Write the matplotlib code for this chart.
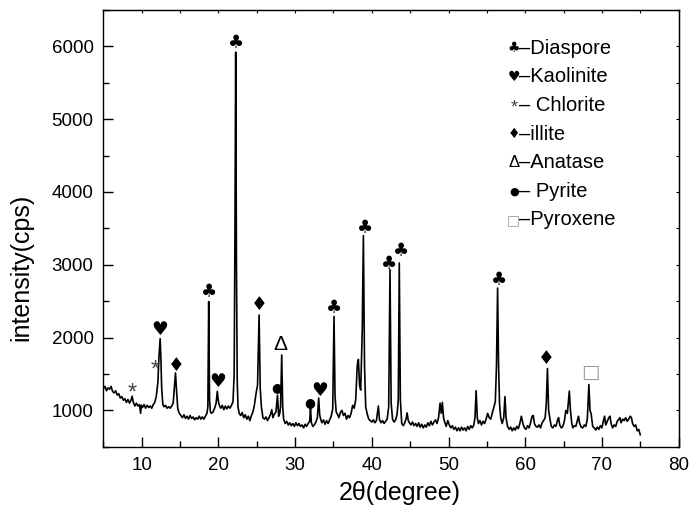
import matplotlib
matplotlib.use("Agg")
import matplotlib.pyplot as plt
from matplotlib.ticker import MultipleLocator

plt.rcParams['font.family'] = ['Liberation Sans', 'DejaVu Sans']

two_theta = [
    5.0, 5.2, 5.4, 5.6, 5.8, 6.0, 6.2, 6.4, 6.6, 6.8, 7.0, 7.2, 7.4, 7.6, 7.8, 8.0, 8.2, 8.4, 8.6, 8.75,
    8.9, 9.1, 9.3, 9.5, 9.7, 9.85, 9.95, 10.1, 10.3, 10.5, 10.7, 10.9, 11.1, 11.3, 11.5, 11.7, 11.9, 12.1,
    12.25, 12.4, 12.5, 12.6, 12.75, 12.9, 13.1, 13.3, 13.5, 13.7, 13.9, 14.1, 14.25, 14.4, 14.55, 14.7,
    14.9, 15.1, 15.3, 15.5, 15.7, 15.9, 16.1, 16.3, 16.5, 16.7, 16.9, 17.1, 17.3, 17.5, 17.7, 17.9, 18.1,
    18.3, 18.5, 18.62, 18.73, 18.84, 18.95, 19.1, 19.3, 19.5, 19.7, 19.85, 20.0, 20.15, 20.3, 20.5, 20.7,
    20.9, 21.1, 21.3, 21.5, 21.7, 21.9, 22.05, 22.15, 22.25, 22.35, 22.45, 22.55, 22.7, 22.9, 23.1, 23.3,
    23.5, 23.7, 23.9, 24.1, 24.3, 24.5, 24.7, 24.9, 25.1, 25.3, 25.45, 25.6, 25.8, 26.0, 26.2, 26.4, 26.6,
    26.8, 26.95, 27.1, 27.3, 27.5, 27.7, 27.85, 28.0, 28.1, 28.25, 28.38, 28.5, 28.7, 28.9, 29.1, 29.3,
    29.5, 29.7, 29.9, 30.1, 30.3, 30.5, 30.7, 30.9, 31.1, 31.3, 31.5, 31.7, 31.9, 32.0, 32.12, 32.3, 32.5,
    32.7, 32.9, 33.07, 33.2, 33.35, 33.5, 33.7, 33.9, 34.1, 34.3, 34.5, 34.7, 34.9, 35.07, 35.2, 35.35,
    35.5, 35.7, 35.9, 36.1, 36.3, 36.5, 36.7, 36.9, 37.1, 37.3, 37.5, 37.7, 37.9, 38.1, 38.25, 38.4,
    38.55, 38.75, 38.9, 39.05, 39.2, 39.4, 39.6, 39.8, 40.0, 40.2, 40.4, 40.6, 40.85, 41.0, 41.2, 41.4,
    41.6, 41.8, 42.0, 42.2, 42.37, 42.52, 42.7, 42.9, 43.1, 43.3, 43.45, 43.58, 43.72, 43.9, 44.1, 44.3,
    44.5, 44.6, 44.75, 44.9, 45.1, 45.3, 45.5, 45.7, 45.9, 46.1, 46.3, 46.5, 46.7, 46.9, 47.1, 47.3, 47.5,
    47.7, 47.9, 48.1, 48.3, 48.5, 48.7, 48.9, 49.05, 49.2, 49.35, 49.5, 49.7, 49.9, 50.1, 50.3, 50.5,
    50.7, 50.9, 51.1, 51.3, 51.5, 51.7, 51.9, 52.1, 52.3, 52.5, 52.7, 52.9, 53.1, 53.3, 53.45, 53.6,
    53.75, 53.9, 54.1, 54.3, 54.5, 54.7, 54.9, 55.1, 55.3, 55.5, 55.7, 55.9, 56.1, 56.25, 56.4, 56.52,
    56.65, 56.8, 57.0, 57.2, 57.36, 57.5, 57.7, 57.9, 58.1, 58.3, 58.5, 58.7, 58.9, 59.1, 59.3, 59.5,
    59.7, 59.9, 60.1, 60.3, 60.5, 60.7, 60.9, 61.05, 61.2, 61.4, 61.6, 61.8, 62.0, 62.2, 62.4, 62.6,
    62.75, 62.9, 63.05, 63.2, 63.4, 63.6, 63.8, 64.0, 64.2, 64.35, 64.5, 64.7, 64.9, 65.1, 65.3, 65.5,
    65.75, 65.9, 66.05, 66.2, 66.4, 66.6, 66.8, 66.95, 67.1, 67.3, 67.5, 67.7, 67.9, 68.1, 68.3, 68.45,
    68.6, 68.8, 69.0, 69.2, 69.4, 69.6, 69.8, 70.0, 70.2, 70.35, 70.5, 70.7, 70.9, 71.05, 71.2, 71.4,
    71.6, 71.8, 72.0, 72.2, 72.35, 72.5, 72.7, 72.9, 73.1, 73.3, 73.5, 73.7, 73.85, 74.0, 74.2, 74.4,
    74.6, 74.8, 75.0,
]

intensity = [
    1300, 1330, 1270, 1310, 1290, 1330, 1260, 1240, 1270, 1210, 1230, 1170, 1190, 1140, 1160, 1110, 1150, 1100, 1140, 1195,
    1110, 1060, 1100, 1060, 1080, 960, 1070, 1040, 1080, 1030, 1070, 1040, 1060, 1030, 1080, 1110, 1200, 1380,
    1750, 1985, 1700, 1300, 1080, 1050, 1070, 1030, 1050, 1030, 1060, 1100, 1300, 1515, 1250, 1020,
    960, 930, 900, 940, 890, 920, 880, 930, 890, 910, 870, 900, 880, 920, 880, 910, 880,
    920, 960, 1050, 2495, 1150, 980, 960, 980, 1030, 1100, 1260, 1120, 1060, 1030, 1070, 1010,
    1060, 1020, 1060, 1030, 1070, 1120, 1500, 3400, 5920, 3000, 1400, 1050, 960, 930, 970, 900,
    940, 880, 920, 860, 930, 980, 1080, 1230, 1350, 2310, 1300, 1050, 900, 880, 910, 860, 900,
    950, 1010, 900, 950, 980, 1210, 920, 960, 1060, 1760, 1050, 880, 820, 850, 800, 830,
    790, 820, 780, 830, 790, 820, 780, 800, 760, 810, 780, 820, 850, 1035, 830, 780, 800,
    840, 900, 1170, 940, 870, 830, 870, 810, 860, 820, 870, 920, 1020, 2290, 1200, 980,
    950, 900, 970, 1000, 930, 960, 880, 930, 900, 960, 1070, 1030, 1150, 1620, 1700, 1350,
    1280, 2100, 3400, 1600, 1050, 950, 880, 860, 840, 870, 830, 860, 1060, 870, 830, 860,
    820, 850, 880, 1050, 2935, 1100, 880, 840, 870, 950, 1150, 3025, 1150, 820, 790, 830,
    900, 965, 860, 830, 800, 840, 790, 820, 780, 830, 770, 810, 760, 800, 770, 830, 790,
    850, 800, 840, 870, 820, 900, 1100, 960, 1110, 900, 840, 780, 860, 800, 760, 790,
    740, 770, 720, 760, 720, 770, 730, 760, 720, 780, 740, 790, 760, 800, 900, 1270,
    900, 820, 860, 800, 850, 820, 880, 960, 900, 880, 960, 1040, 1120, 1600, 2680, 1650,
    1100, 900, 820, 900, 1190, 900, 780, 740, 770, 720, 760, 730, 780, 750, 820, 920,
    820, 760, 740, 790, 760, 830, 920, 930, 820, 780, 770, 800, 760, 830, 860, 900,
    1100, 1575, 1000, 900, 780, 760, 800, 780, 860, 900, 800, 760, 780, 850, 1000, 960,
    1265, 1000, 840, 760, 790, 780, 860, 920, 820, 770, 760, 800, 780, 880, 1355, 1000,
    950, 780, 760, 730, 770, 740, 790, 760, 860, 920, 800, 850, 900, 920, 820, 760,
    800, 780, 850, 880, 900, 830, 880, 860, 900, 850, 880, 920, 900, 820, 780, 800,
    720, 740, 665,
]

# peak annotations (symbol, 2theta, intensity of symbol centre)
mark_sym = ['\u2663', '\u2663', '\u2665', '*', '*', '\u2666', '\u2665', '\u2666', '\u0394', '\u25cf',
            '\u25cf', '\u2665', '\u2663', '\u2663', '\u2663', '\u2663', '\u2663', '\u2666', '\u25a1']
mark_x = [22.3, 18.73, 12.4, 8.77, 11.8, 14.5, 19.85, 25.3, 28.1, 27.63,
          31.9, 33.15, 35.1, 39.1, 42.2, 43.82, 56.58, 62.7, 68.44]
mark_y = [6040, 2620, 2106, 1318, 1624, 1610, 1394, 2458, 1908, 1312,
          1106, 1280, 2403, 3502, 3007, 3181, 2792, 1716, 1518]

legend_sym = ['\u2663', '\u2665', '*', '\u2666', '\u0394', '\u25cf', '\u25a1']
legend_txt = ['\u2013Diaspore', '\u2013Kaolinite', '\u2013 Chlorite', '\u2013illite',
              '\u2013Anatase', '\u2013 Pyrite', '\u2013Pyroxene']

fig = plt.figure(figsize=(6.92, 5.14), dpi=100)
ax = fig.add_axes([103.4 / 692, 1 - 446.8 / 514, 575.2 / 692, 436.8 / 514])

ax.plot(two_theta, intensity, color='black', lw=1.2)

ax.set_xlim(5, 80)
ax.set_ylim(500, 6500)
ax.xaxis.set_minor_locator(MultipleLocator(5))
ax.yaxis.set_minor_locator(MultipleLocator(500))
ax.set_xticks([10, 20, 30, 40, 50, 60, 70, 80])
ax.set_yticks([1000, 2000, 3000, 4000, 5000, 6000])
ax.tick_params(which='major', direction='in', length=7, width=1.0, labelsize=13.5, pad=7)
ax.tick_params(which='minor', direction='in', length=4, width=1.0)
for s in ax.spines.values():
    s.set_linewidth(1.0)

# short ticks on top and right
secx = ax.secondary_xaxis('top')
secx.xaxis.set_major_locator(MultipleLocator(5))
secx.tick_params(which='major', direction='in', length=2.5, labeltop=False)
secx.set_xticklabels([])
secy = ax.secondary_yaxis('right')
secy.yaxis.set_major_locator(MultipleLocator(500))
secy.tick_params(which='major', direction='in', length=2.5, labelright=False)
secy.set_yticklabels([])

ax.set_xlabel('2\u03b8(degree)', fontsize=18)
ax.set_ylabel('intensity(cps)', fontsize=18)
ax.xaxis.set_label_coords(0.515, -0.078)
ax.yaxis.set_label_coords(-0.122, 0.41)

sym_style = {
    '\u2663': dict(fontsize=13, color='black', family='DejaVu Sans'),
    '\u2665': dict(fontsize=13.5, color='black', family='DejaVu Sans'),
    '\u2666': dict(fontsize=13.5, color='black', family='DejaVu Sans'),
    '*': dict(fontsize=17, color='#444444', family='Liberation Sans'),
    '\u0394': dict(fontsize=15, color='black', family='Liberation Sans'),
    '\u25cf': dict(fontsize=9, color='black', family='DejaVu Sans'),
    '\u25a1': dict(fontsize=14, color='#999999', family='DejaVu Sans'),
}
for s, x, y in zip(mark_sym, mark_x, mark_y):
    st = sym_style[s]
    dy = -80 if s == '*' else 0
    ax.text(x, y + dy, s, ha='center', va='center', **st)

leg_sym_size = {'\u2663': 10, '\u2665': 10, '*': 13, '\u2666': 10, '\u0394': 12, '\u25cf': 8, '\u25a1': 10}
for i, (s, t) in enumerate(zip(legend_sym, legend_txt)):
    py = 48.3 + 28.6 * i
    st = dict(sym_style[s])
    st['fontsize'] = leg_sym_size[s]
    sx = 513 if s == '\u25a1' else 514
    sy = py + (2 if s == '*' else 0)
    fig.text(sx / 692, 1 - sy / 514, s, ha='center', va='center', **st)
    fig.text(519 / 692, 1 - py / 514, t, ha='left', va='center', fontsize=14.5,
             family=['Liberation Sans', 'DejaVu Sans'])

fig.savefig('out.png', dpi=100)
